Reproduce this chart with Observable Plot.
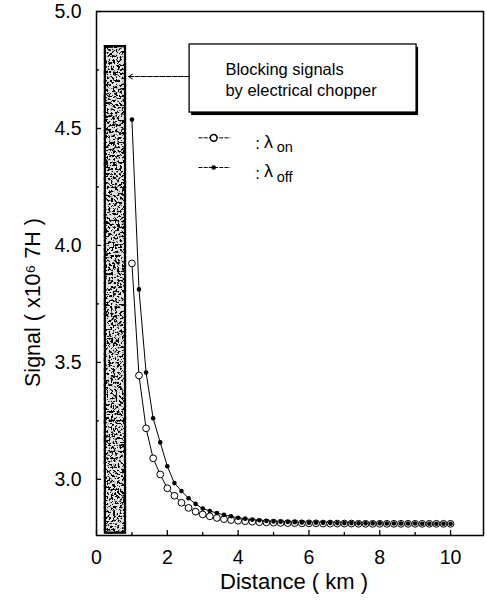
<!DOCTYPE html>
<html>
<head>
<meta charset="utf-8">
<script src="https://cdn.jsdelivr.net/npm/d3@7"></script>
<script src="https://cdn.jsdelivr.net/npm/@observablehq/plot@0.6"></script>
<style>
  html, body { margin: 0; padding: 0; background: #fff; }
</style>
</head>
<body>
<div id="chart"></div>
<script>
// Range (km) of each sample
const distance = [
  1.0, 1.2, 1.4, 1.6, 1.8, 2.0, 2.2, 2.4, 2.6, 2.8,
  3.0, 3.2, 3.4, 3.6, 3.8, 4.0, 4.2, 4.4, 4.6, 4.8,
  5.0, 5.2, 5.4, 5.6, 5.8, 6.0, 6.2, 6.4, 6.6, 6.8,
  7.0, 7.2, 7.4, 7.6, 7.8, 8.0, 8.2, 8.4, 8.6, 8.8,
  9.0, 9.2, 9.4, 9.6, 9.8, 10.0
];
// Return signal at the on-line wavelength (x10^6)
const signalOn = [
  3.923, 3.444, 3.218, 3.090, 3.021, 2.962, 2.930, 2.900, 2.878, 2.862,
  2.850, 2.842, 2.835, 2.830, 2.826, 2.823, 2.821, 2.819, 2.817, 2.816,
  2.815, 2.814, 2.813, 2.813, 2.812, 2.812, 2.812, 2.811, 2.811, 2.811,
  2.811, 2.811, 2.810, 2.810, 2.810, 2.810, 2.810, 2.810, 2.810, 2.810,
  2.810, 2.810, 2.810, 2.810, 2.810, 2.810
];
// Return signal at the off-line wavelength (x10^6)
const signalOff = [
  4.538, 3.812, 3.457, 3.261, 3.158, 3.056, 2.984, 2.950, 2.919, 2.895,
  2.875, 2.865, 2.856, 2.848, 2.842, 2.836, 2.832, 2.828, 2.825, 2.822,
  2.820, 2.819, 2.818, 2.817, 2.816, 2.815, 2.815, 2.814, 2.814, 2.813,
  2.813, 2.813, 2.812, 2.812, 2.812, 2.812, 2.811, 2.811, 2.811, 2.811,
  2.811, 2.810, 2.810, 2.810, 2.810, 2.810
];
// Span blanked by the electrical chopper
const chopperKm = [0.25, 0.82];
const chopperSignal = [2.77, 4.85];

const xMajor = [0, 2, 4, 6, 8, 10];
const xMinor = [1, 3, 5, 7, 9];
const yMajor = [3.0, 3.5, 4.0, 4.5, 5.0];
const yMinor = [3.25, 3.75, 4.25, 4.75];

const noteLines = ["Blocking signals", "by electrical chopper"];
const seriesNames = ["on", "off"];

const rows = distance.map((d, i) => ({d, on: signalOn[i], off: signalOff[i]}));

// layout
const W = 487, H = 606;
const mL = 96, mR = 4, mT = 11, mB = 71;
const innerW = W - mL - mR, innerH = H - mT - mB;
const font = "'Liberation Sans', Arial, Helvetica, sans-serif";

const noteBox = {x1: 2.63, x2: 9.04, y1: 4.568, y2: 4.859};
const noteX = 3.64, noteY = [4.752, 4.662];
const arrowY = 4.722;
const legendY = [4.46, 4.333];
const legendX = {x1: 2.88, x2: 3.78, mark: 3.31, colon: 4.55, lam: 4.86, sub: 5.09};

const chart = Plot.plot({
  width: W, height: H,
  marginLeft: mL, marginRight: mR, marginTop: mT, marginBottom: mB,
  x: {domain: [0, 10.93]},
  y: {domain: [2.76, 5.0]},
  style: {fontFamily: font, background: "#fff", color: "#000", overflow: "visible"},
  marks: [
    // chopper-blanked span
    Plot.rect([{x1: chopperKm[0], x2: chopperKm[1], y1: chopperSignal[0], y2: chopperSignal[1]}],
      {x1: "x1", x2: "x2", y1: "y1", y2: "y2", fill: "#e2e2e2", stroke: "#000", strokeWidth: 2.2, ariaDescription: "chopper"}),

    // curves
    Plot.line(rows, {x: "d", y: "off", stroke: "#000", strokeWidth: 1}),
    Plot.line(rows, {x: "d", y: "on", stroke: "#000", strokeWidth: 1}),
    Plot.dot(rows, {x: "d", y: "on", r: 3.4, fill: "#fff", stroke: "#000", strokeWidth: 1}),
    Plot.dot(rows, {x: "d", y: "off", r: 2.3, fill: "#000", stroke: "none"}),

    // note box with drop shadow
    Plot.rect([noteBox], {x1: "x1", x2: "x2", y1: "y1", y2: "y2", fill: "#000", dx: 2, dy: 3}),
    Plot.rect([noteBox], {x1: "x1", x2: "x2", y1: "y1", y2: "y2", fill: "#fff", stroke: "#000", strokeWidth: 1.3}),
    Plot.text(noteLines, {x: noteX, y: (d, i) => noteY[i], text: d => d, textAnchor: "start", fontSize: 16.5, fill: "#000"}),
    Plot.arrow([noteBox], {x1: "x1", y1: () => arrowY, x2: () => 0.9, y2: () => arrowY,
      stroke: "#000", strokeWidth: 1, headLength: 7, strokeDasharray: "5,1.2"}),

    // legend
    Plot.link(seriesNames, {x1: () => legendX.x1, x2: () => legendX.x2, y1: (d, i) => legendY[i], y2: (d, i) => legendY[i],
      stroke: "#000", strokeWidth: 1, strokeDasharray: "4,1.2"}),
    Plot.dot(["on"], {x: () => legendX.mark, y: () => legendY[0], r: 3.4, fill: "#fff", stroke: "#000"}),
    Plot.dot(["off"], {x: () => legendX.mark, y: () => legendY[1], r: 2.3, fill: "#000"}),
    Plot.text(seriesNames, {x: () => legendX.colon, y: (d, i) => legendY[i], text: () => ":", dy: 6, fontSize: 17, fill: "#000"}),
    Plot.text(seriesNames, {x: () => legendX.lam, y: (d, i) => legendY[i], text: () => "λ", dy: 4, fontSize: 18, fill: "#000"}),
    Plot.text(seriesNames, {x: () => legendX.sub, y: (d, i) => legendY[i], text: d => d, dy: 10, textAnchor: "start", fontSize: 14.5, fill: "#000"}),

    // inward ticks
    Plot.ruleX(xMajor, {insetTop: innerH - 5, stroke: "#000", strokeWidth: 1.3}),
    Plot.ruleX(xMinor, {insetTop: innerH - 3, stroke: "#000", strokeWidth: 1.3}),
    Plot.ruleY(yMajor, {insetRight: innerW - 5, stroke: "#000", strokeWidth: 1.3}),
    Plot.ruleY(yMinor, {insetRight: innerW - 3, stroke: "#000", strokeWidth: 1.3}),

    // tick labels
    Plot.axisX(xMajor, {tickSize: 0, tickPadding: 15, fontSize: 19.5, label: null}),
    Plot.axisY(yMajor, {tickSize: 0, tickPadding: 15, fontSize: 19.5, tickFormat: d => d.toFixed(1), label: null}),

    // axis titles
    Plot.text(["Distance ( km )"], {frameAnchor: "bottom", dx: 4, dy: 53, fontSize: 22, fill: "#000"}),
    Plot.text(["Signal ( x10\u2076 7H )"], {frameAnchor: "left", textAnchor: "middle", dx: -63, dy: 29, rotate: -90, fontSize: 21.5, fill: "#000"}),

    Plot.frame({stroke: "#000", strokeWidth: 1.5})
  ]
});

// speckled texture for the chopper band
const svg = d3.select(chart);
const defs = svg.insert("defs", ":first-child");
const filter = defs.append("filter")
  .attr("id", "speckle")
  .attr("x", "-20%").attr("y", "-2%").attr("width", "140%").attr("height", "104%")
  .attr("color-interpolation-filters", "sRGB");
filter.append("feTurbulence")
  .attr("type", "fractalNoise").attr("baseFrequency", "0.45").attr("numOctaves", 4).attr("seed", 11)
  .attr("result", "noise");
filter.append("feColorMatrix")
  .attr("in", "noise").attr("type", "matrix")
  .attr("values", "0 0 0 0 0  0 0 0 0 0  0 0 0 0 0  -14 0 0 0 6.8")
  .attr("result", "dots");
filter.append("feComposite")
  .attr("in", "dots").attr("in2", "SourceAlpha").attr("operator", "in").attr("result", "clipped");
const merge = filter.append("feMerge");
merge.append("feMergeNode").attr("in", "SourceGraphic");
merge.append("feMergeNode").attr("in", "clipped");

let band = svg.select('g[aria-description="chopper"]');
if (band.empty()) band = svg.select('g[aria-label="rect"]');
band.attr("filter", "url(#speckle)");

document.getElementById("chart").append(chart);
</script>
</body>
</html>
